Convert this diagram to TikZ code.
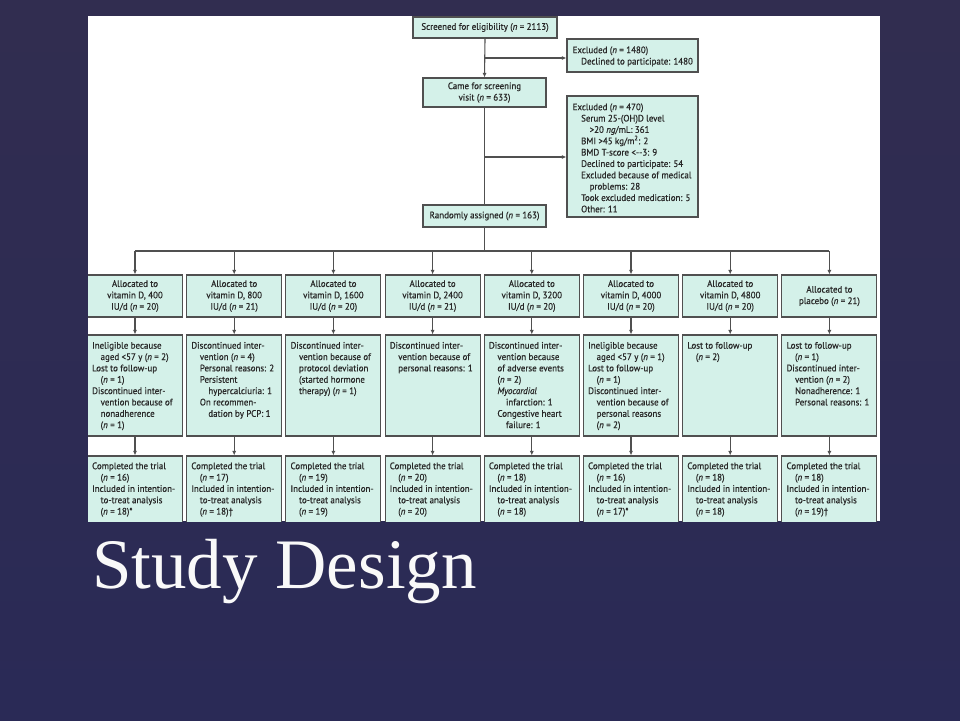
\documentclass[tikz,border=0pt]{standalone}
\usepackage{fontspec}
\usetikzlibrary{arrows.meta}
\newfontfamily\bxf[FakeStretch=0.95,FakeBold=0.6]{PT Sans}
\newfontfamily\ttlf{Liberation Serif}
\definecolor{bgtop}{RGB}{49,45,80}
\definecolor{bgbot}{RGB}{42,42,86}
\definecolor{mint}{RGB}{212,241,233}
\definecolor{lc}{RGB}{80,80,80}
\definecolor{tc}{RGB}{40,40,40}
\newcommand\fst{\rule{0pt}{7pt}}
\newcommand\ia{\hspace*{8.5pt}}
\newcommand\ib{\hspace*{17pt}}
\newcommand\nn{\textit{n}}
\begin{document}
\begin{tikzpicture}[x=1pt,y=-1pt,
  box/.style={draw=lc, line width=1.1pt, fill=mint, inner sep=0pt, align=center, text=tc,
    font=\bxf\fontsize{9.4}{11.4}\selectfont},
  txt/.style={inner sep=0pt, align=left, text=tc, anchor=north west,
    font=\bxf\fontsize{9.4}{11.35}\selectfont},
  ln/.style={draw=lc, line width=1.1pt},
  arr/.style={draw=lc, line width=1.1pt, -{Latex[length=4.5pt,width=4pt]}}]
\useasboundingbox (0,0) rectangle (960,720);
\shade[top color=bgtop, bottom color=bgbot] (0,0) rectangle (960,720);
\fill[white] (88,16) rectangle (880,521);
\begin{scope}
\clip (88,16) rectangle (880,521);
% top part
\node[box, minimum width=144, minimum height=21] (scr) at (485,27.5) {Screened for eligibility (\nn{} = 2113)};
\node[box, minimum width=131, minimum height=33] (exc1) at (632.5,55.5) {};
\node[txt] (te1) at ([xshift=6pt,yshift=-7.5pt]exc1.north west) {\fst Excluded (\nn{} = 1480)\\\ia Declined to participate: 1480};
\node[box, minimum width=123, minimum height=29] (came) at (484.5,92.5) {Came for screening\\visit (\nn{} = 633)};
\node[box, minimum width=131, minimum height=121] (exc2) at (632.5,156.5) {};
\node[txt] (te2) at ([xshift=6pt,yshift=-7.5pt]exc2.north west) {\fst Excluded (\nn{} = 470)\\
\ia Serum 25-(OH)D level\\
\ib {>}20 \textit{ng}/mL: 361\\
\ia BMI {>}45 kg/m\textsuperscript{2}: 2\\
\ia BMD T-score {<}--3: 9\\
\ia Declined to participate: 54\\
\ia Excluded because of medical\\
\ib problems: 28\\
\ia Took excluded medication: 5\\
\ia Other: 11};
\node[box, minimum width=123, minimum height=22] (rand) at (484.5,216) {Randomly assigned (\nn{} = 163)};
\coordinate (j1) at (484.5,58);
\coordinate (j2) at (484.5,157);
\coordinate (bus) at (484.5,251);
\draw[arr] (scr.south) -- (came.north);
\draw[arr] (j1) -- (j1 -| exc1.west);
\draw[ln] (came.south) -- (rand.north);
\draw[arr] (j2) -- (j2 -| exc2.west);
\draw[ln] (rand.south) -- (bus);
% columns
\foreach \i/\txt in {1/{Allocated to\\vitamin D, 400\\IU/d (\nn{} = 20)},
  2/{Allocated to\\vitamin D, 800\\IU/d (\nn{} = 21)},
  3/{Allocated to\\vitamin D, 1600\\IU/d (\nn{} = 20)},
  4/{Allocated to\\vitamin D, 2400\\IU/d (\nn{} = 21)},
  5/{Allocated to\\vitamin D, 3200\\IU/d (\nn{} = 20)},
  6/{Allocated to\\vitamin D, 4000\\IU/d (\nn{} = 20)},
  7/{Allocated to\\vitamin D, 4800\\IU/d (\nn{} = 20)},
  8/{Allocated to\\placebo (\nn{} = 21)}} {
  \pgfmathsetmacro\cx{135+99.2*(\i-1)}
  \node[box, minimum width=95, minimum height=42] (a\i) at (\cx,296) {\txt};
  \node[box, minimum width=95, minimum height=101] (b\i) at (\cx,385.5) {};
  \node[box, minimum width=95, minimum height=72] (c\i) at (\cx,492) {};
  \draw[arr] (a\i.north |- bus) -- (a\i.north);
  \draw[arr] (a\i.south) -- (b\i.north);
  \draw[arr] (b\i.south) -- (c\i.north);
}
\draw[ln] (a1.north |- bus) -- (a8.north |- bus);
% row 2 texts
\node[txt] (t1) at ([xshift=5pt,yshift=-7pt]b1.north west) {\fst Ineligible because\\
\ia aged {<}57 y (\nn{} = 2)\\
Lost to follow-up\\
\ia (\nn{} = 1)\\
Discontinued inter-\\
\ia vention because of\\
\ia nonadherence\\
\ia (\nn{} = 1)};
\node[txt] (t2) at ([xshift=5pt,yshift=-7pt]b2.north west) {\fst Discontinued inter-\\
\ia vention (\nn{} = 4)\\
\ia Personal reasons: 2\\
\ia Persistent\\
\ib hypercalciuria: 1\\
\ia On recommen-\\
\ib dation by PCP: 1};
\node[txt] (t3) at ([xshift=5pt,yshift=-7pt]b3.north west) {\fst Discontinued inter-\\
\ia vention because of\\
\ia protocol deviation\\
\ia (started hormone\\
\ia therapy) (\nn{} = 1)};
\node[txt] (t4) at ([xshift=5pt,yshift=-7pt]b4.north west) {\fst Discontinued inter-\\
\ia vention because of\\
\ia personal reasons: 1};
\node[txt] (t5) at ([xshift=5pt,yshift=-7pt]b5.north west) {\fst Discontinued inter-\\
\ia vention because\\
\ia of adverse events\\
\ia (\nn{} = 2)\\
\ia \textit{Myocardial}\\
\ib infarction: 1\\
\ia Congestive heart\\
\ib failure: 1};
\node[txt] (t6) at ([xshift=5pt,yshift=-7pt]b6.north west) {\fst Ineligible because\\
\ia aged {<}57 y (\nn{} = 1)\\
Lost to follow-up\\
\ia (\nn{} = 1)\\
Discontinued inter-\\
\ia vention because of\\
\ia personal reasons\\
\ia (\nn{} = 2)};
\node[txt] (t7) at ([xshift=5pt,yshift=-7pt]b7.north west) {\fst Lost to follow-up\\
\ia (\nn{} = 2)};
\node[txt] (t8) at ([xshift=5pt,yshift=-7pt]b8.north west) {\fst Lost to follow-up\\
\ia (\nn{} = 1)\\
Discontinued inter-\\
\ia vention (\nn{} = 2)\\
\ia Nonadherence: 1\\
\ia Personal reasons: 1};
% row 3 texts
\foreach \i/\p/\q in {1/16/18)*, 2/17/18)\textdagger, 3/19/19), 4/20/20), 5/18/18), 6/16/17)*, 7/18/18), 8/18/19)\textdagger} {
  \node[txt] (u\i) at ([xshift=5pt,yshift=-6.5pt]c\i.north west) {\fst Completed the trial\\
  \ia (\nn{} = \p)\\
  Included in intention-\\
  \ia to-treat analysis\\
  \ia (\nn{} = \q};
}
\end{scope}
\node[anchor=base west, inner sep=0pt, text=white!95!gray, font=\ttlf\fontsize{71}{80}\selectfont] (title) at (92,588) {Study Design};
\end{tikzpicture}
\end{document}
